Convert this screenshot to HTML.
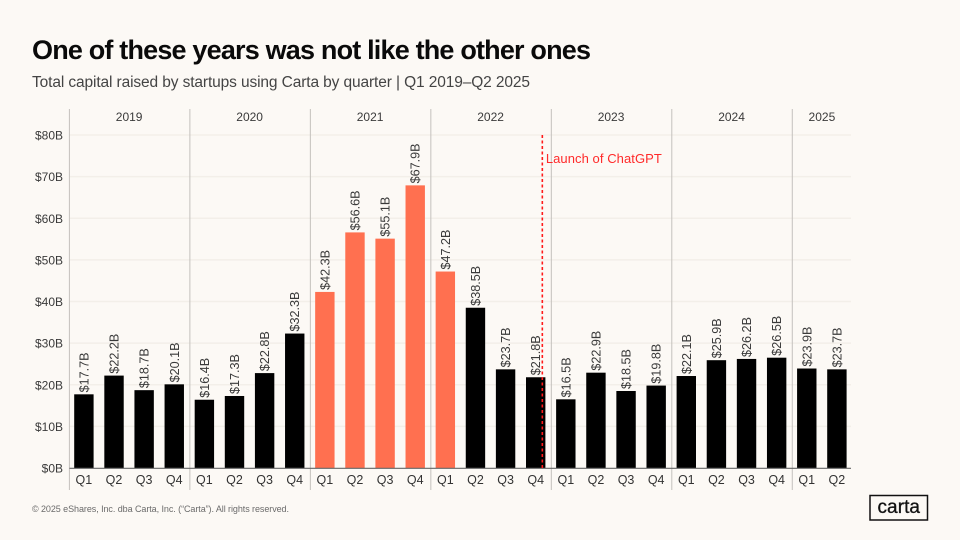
<!DOCTYPE html>
<html lang="en">
<head>
<meta charset="utf-8">
<title>One of these years was not like the other ones</title>
<style>
html,body{margin:0;padding:0;background:#fcf9f5;}
svg{display:block;font-family:"Liberation Sans",sans-serif;}
</style>
</head>
<body>
<svg id="chart" width="960" height="540" viewBox="0 0 960 540" xmlns="http://www.w3.org/2000/svg">
<rect x="0" y="0" width="960" height="540" fill="#fcf9f5"/>
<text x="32" y="59" font-size="27" font-weight="700" fill="#0a0a0a" textLength="559" lengthAdjust="spacing">One of these years was not like the other ones</text>
<text x="32" y="87" font-size="15.5" fill="#444" textLength="498" lengthAdjust="spacing">Total capital raised by startups using Carta by quarter | Q1 2019–Q2 2025</text>
<g id="grid"></g>
<g id="yaxis"></g>
<g id="dividers"></g>
<g id="bars"></g>
<g id="labels"></g>
<g id="xaxis"></g>
<g id="annotation"></g>
<text x="32" y="512" font-size="9" fill="#6b6b6b" textLength="257" lengthAdjust="spacing">© 2025 eShares, Inc. dba Carta, Inc. (“Carta”). All rights reserved.</text>
<g>
<rect x="870" y="495.5" width="57.5" height="24.5" fill="none" stroke="#111" stroke-width="1.5"/>
<text x="877.5" y="513" font-size="19" fill="#111" stroke="#111" stroke-width="0.3" textLength="42.5" lengthAdjust="spacing">carta</text>
</g>
</svg>
<script>
const years = ['2019','2020','2021','2022','2023','2024','2025'];
const quartersPerYear = [4,4,4,4,4,4,2];
const values = [17.7,22.2,18.7,20.1,16.4,17.3,22.8,32.3,42.3,56.6,55.1,67.9,47.2,38.5,23.7,21.8,16.5,22.9,18.5,19.8,22.1,25.9,26.2,26.5,23.9,23.7];
const quarterLabels = ['Q1','Q2','Q3','Q4','Q1','Q2','Q3','Q4','Q1','Q2','Q3','Q4','Q1','Q2','Q3','Q4','Q1','Q2','Q3','Q4','Q1','Q2','Q3','Q4','Q1','Q2'];
const highlighted = [0,0,0,0,0,0,0,0,1,1,1,1,1,0,0,0,0,0,0,0,0,0,0,0,0,0];
const yTicks = [0,10,20,30,40,50,60,70,80];
const annotationLabel = 'Launch of ChatGPT';

const NS = 'http://www.w3.org/2000/svg';
const plotLeft = 69.4, plotRight = 851, plotBottom = 468, plotTop = 135;
const bandWidth = 30.12;
const barWidth = 19.4;
const xScale = i => plotLeft + bandWidth * i;
const yScale = v => plotBottom - (v / 80) * (plotBottom - plotTop);
function make(parent, tag, attrs, text) {
  const el = document.createElementNS(NS, tag);
  for (const k in attrs) el.setAttribute(k, attrs[k]);
  if (text !== undefined) el.textContent = text;
  document.getElementById(parent).appendChild(el);
  return el;
}

yTicks.forEach(t => {
  const y = yScale(t);
  if (t > 0) {
    const g = make('grid', 'line', {x1: plotLeft, x2: plotRight, y1: y, y2: y, stroke: '#f3efe9', 'stroke-width': 1.4});
    
    
  }
  const l = make('yaxis', 'text', {x: 63, y: y + 4.5, 'font-size': 12, fill: '#3a3a3a', 'text-anchor': 'end'}, '$' + t + 'B');
  
  
});

let start = 0;
years.forEach((yr, yi) => {
  const n = quartersPerYear[yi];
  const x0 = xScale(start);
  const d = make('dividers', 'line', {x1: x0, x2: x0, y1: 109, y2: 490, stroke: '#c4c1bd', 'stroke-width': 1});
  
  
  const t = make('dividers', 'text', {x: x0 + bandWidth * n / 2 - 0.5, y: 121, 'font-size': 12, fill: '#3a3a3a', 'text-anchor': 'middle'}, yr);
  
  
  start += n;
});

values.forEach((v, i) => {
  const cx = xScale(i) + 14.5;
  const y = yScale(v);
  const bar = make('bars', 'rect', {x: cx - barWidth / 2, y: y, width: barWidth, height: plotBottom - y, fill: highlighted[i] ? '#ff7050' : '#000'});
  
  
  const lx = cx + 4.5, ly = y - 2;
  const lab = make('labels', 'text', {x: lx, y: ly, 'font-size': 12.6, fill: '#3a3a3a', transform: 'rotate(-90 ' + lx + ' ' + ly + ')'}, '$' + v.toFixed(1) + 'B');
  
  
  const q = make('xaxis', 'text', {x: cx, y: 484, 'font-size': 12.5, fill: '#333', 'text-anchor': 'middle'}, quarterLabels[i]);
  
  
});

const axis = make('xaxis', 'line', {x1: plotLeft, x2: plotRight, y1: plotBottom + 0.3, y2: plotBottom + 0.3, stroke: '#666', 'stroke-width': 1.2});



const annX = xScale(16) - 9;
const annLine = make('annotation', 'line', {x1: annX, x2: annX, y1: yScale(80), y2: plotBottom, stroke: '#ff1a1a', 'stroke-width': 1.6, 'stroke-dasharray': '3 2.5'});


const annText = make('annotation', 'text', {x: annX + 3.5, y: 163, 'font-size': 13, fill: '#ff2a2a', textLength: 116, lengthAdjust: 'spacing'}, annotationLabel);


</script>
</body>
</html>
